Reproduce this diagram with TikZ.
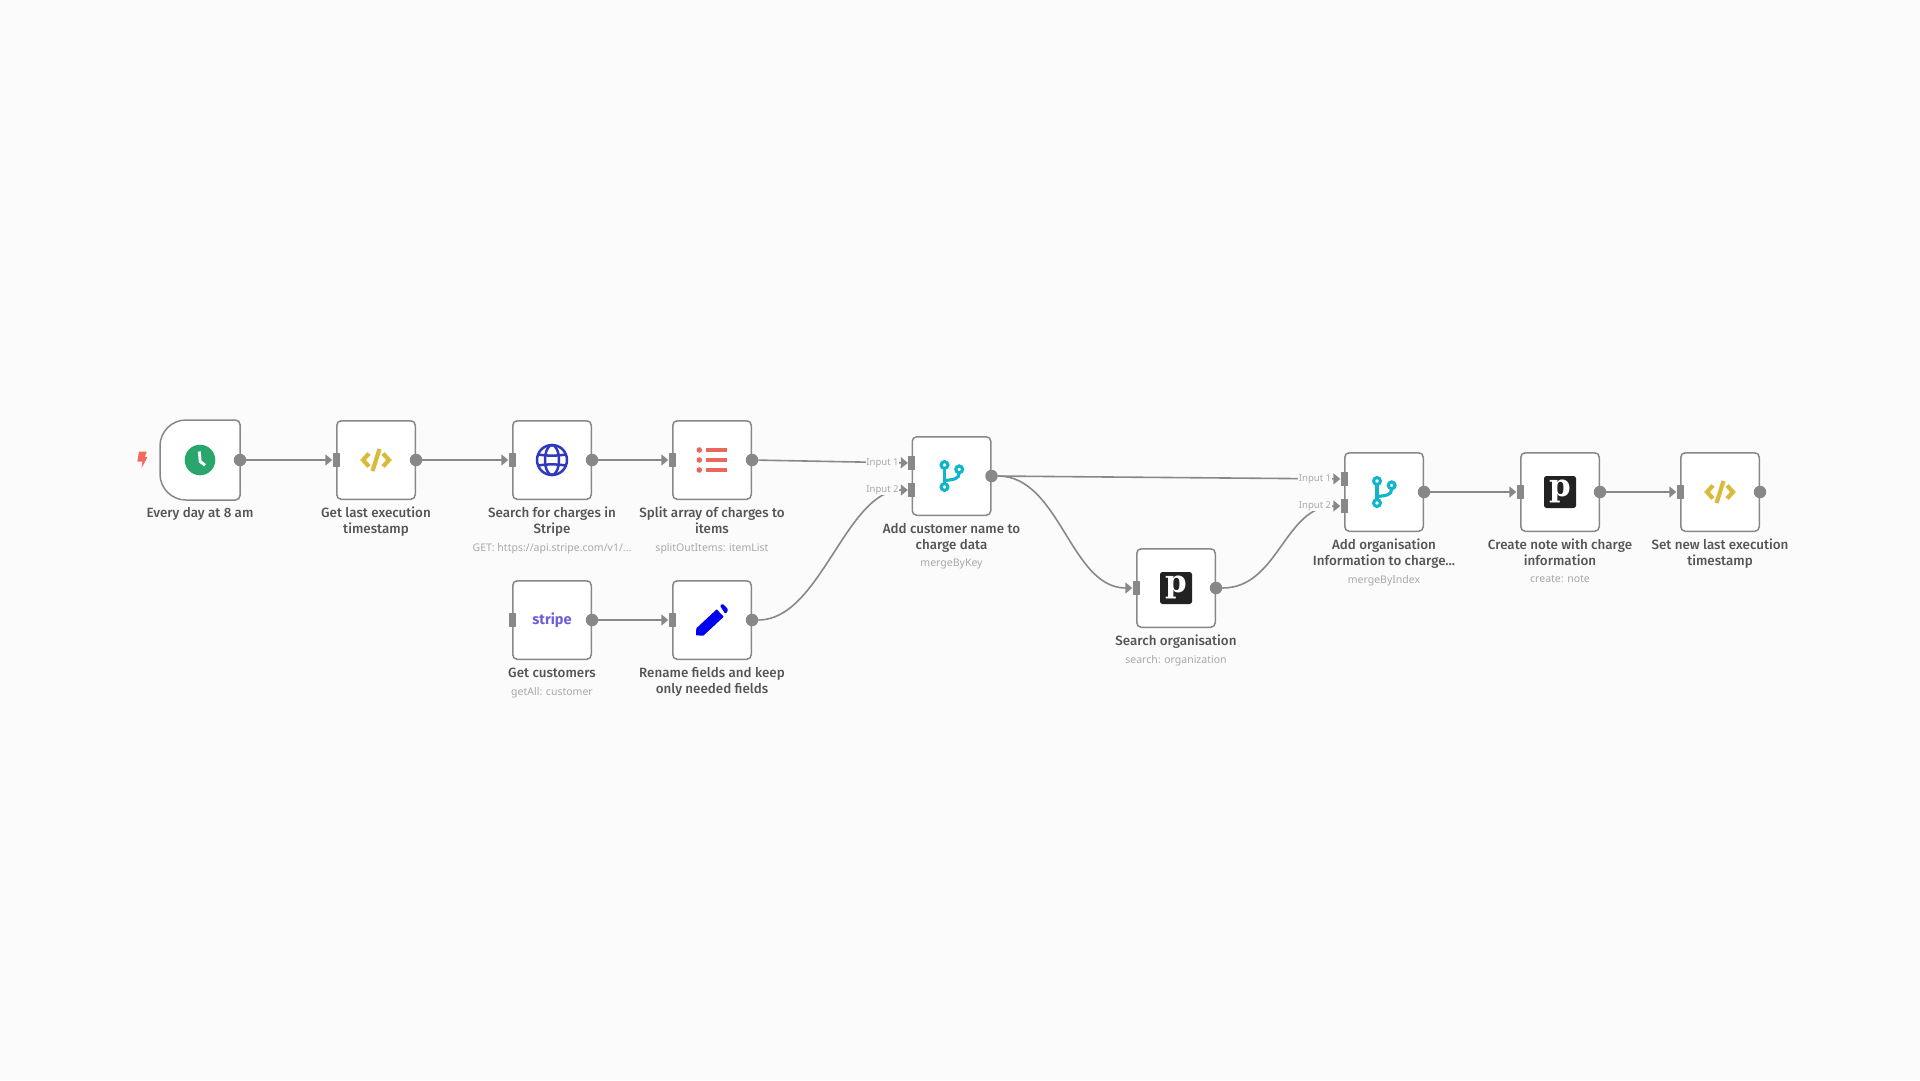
\documentclass[tikz,border=0pt]{standalone}
\usepackage{fontspec}
\usepackage{color}
\usetikzlibrary{arrows.meta,positioning,calc}
\setmainfont{Noto Sans}
\newfontfamily\titlefont{Fira Sans Medium}
\newfontfamily\slabfont{DejaVu Serif Bold}
\newfontfamily\stripefont{Fira Sans}
\definecolor{canvasgray}{HTML}{FBFBFB}
\definecolor{wiregray}{HTML}{888888}
\definecolor{titlegray}{HTML}{555555}
\definecolor{subgray}{HTML}{A8A8A8}
\definecolor{clockgreen}{HTML}{2AA56B}
\definecolor{boltred}{HTML}{F4695D}
\definecolor{codegold}{HTML}{D8BB3C}
\definecolor{globeblue}{HTML}{3038BE}
\definecolor{listred}{HTML}{E8695B}
\definecolor{stripeblue}{HTML}{6A5FD8}
\definecolor{mergecyan}{HTML}{10B5C9}
\definecolor{pipeblack}{HTML}{222222}
\tikzset{
    workbox/.style={rectangle, draw=wiregray, fill=white, line width=1.5pt, rounded corners=4.5pt, minimum size=78.5pt, inner sep=0pt},
    outport/.style={circle, fill=wiregray, minimum size=12.5pt, inner sep=0pt},
    inport/.style={rectangle, fill=wiregray, minimum width=7pt, minimum height=14pt, inner sep=0pt},
    link/.style={draw=wiregray, line width=1.6pt, -{Triangle[length=7pt,width=11pt]}},
    nodetitle/.style={align=center, inner sep=0pt, text depth=3.5pt, text=titlegray, font=\titlefont\fontsize{13.4}{16}\selectfont},
    nodesub/.style={align=center, inner sep=0pt, text=subgray, font=\fontsize{10.5}{13}\selectfont},
    inputtag/.style={fill=canvasgray, inner sep=0.5pt, text=subgray, font=\fontsize{9.5}{11}\selectfont}
}
\newcommand{\codeicon}[1]{
    \begin{scope}[shift={(#1)}, draw=codegold, line width=4.2pt]
        \draw[miter limit=10] (-7,-6.5) -- (-13,0) -- (-7,6.5);
        \draw[miter limit=10] (7,-6.5) -- (13,0) -- (7,6.5);
        \draw (3.5,-11) -- (-3.5,11);
    \end{scope}
}
\newcommand{\pipeicon}[2]{
    \fill[pipeblack, rounded corners=2.5pt] ($(#1)+(-16,-16)$) rectangle ($(#1)+(16,16)$);
    \node[text=white, inner sep=0pt, font=\slabfont\fontsize{31}{31}\selectfont] (#2) at ($(#1)+(0,-1)$) {p};
}
\newcommand{\mergeicon}[1]{
    \begin{scope}[shift={(#1)}, draw=mergecyan, line width=3.1pt]
        \draw (-7,-8) -- (-7,8);
        \draw (7.7,-3.5) .. controls (7.7,3) and (3,3.5) .. (-7,4.5);
        \draw (-7,-11) circle (3.4);
        \draw (7.7,-6.7) circle (3.4);
        \draw (-7,11) circle (3.4);
    \end{scope}
}
\begin{document}
\begin{tikzpicture}[x=1pt, y=-1pt]
            \useasboundingbox (0,0) rectangle (1920,1080);
            \fill[canvasgray] (0,0) rectangle (1920,1080);
            \node[workbox, draw=none, fill=none] at (200,460) (Cron0) {};
            \node[workbox] at ($(Cron0)+(176,0)$) (Code0) {};
            \node[workbox] at ($(Code0)+(176,0)$) (Http0) {};
            \node[workbox] at ($(Http0)+(160,0)$) (Split0) {};
            \node[workbox] at (552,620) (Stripe0) {};
            \node[workbox] at ($(Stripe0)+(160,0)$) (Rename0) {};
            \node[workbox] at (951.5,476) (Merge0) {};
            \node[workbox] at (1176,588) (Pipe0) {};
            \node[workbox] at (1384,492) (Merge1) {};
            \node[workbox] at ($(Merge1)+(176,0)$) (Pipe1) {};
            \node[workbox] at ($(Pipe1)+(160,0)$) (Code1) {};
            \draw[draw=wiregray, fill=white, line width=1.5pt, rounded corners=4.5pt] (Cron0.north) -- (Cron0.north east) -- (Cron0.south east) -- (Cron0.south) [rounded corners=26pt] -- (Cron0.south west) -- (Cron0.north west) [rounded corners=0pt] -- cycle;
            \node[outport] at (Cron0.east) (Cron0o) {};
            \node[outport] at (Code0.east) (Code0o) {};
            \node[outport] at (Http0.east) (Http0o) {};
            \node[outport] at (Split0.east) (Split0o) {};
            \node[outport] at (Stripe0.east) (Stripe0o) {};
            \node[outport] at (Rename0.east) (Rename0o) {};
            \node[outport] at (Merge0.east) (Merge0o) {};
            \node[outport] at (Pipe0.east) (Pipe0o) {};
            \node[outport] at (Merge1.east) (Merge1o) {};
            \node[outport] at (Pipe1.east) (Pipe1o) {};
            \node[outport] at (Code1.east) (Code1o) {};
            \node[inport] at (Code0.west) (Code0i) {};
            \node[inport] at (Http0.west) (Http0i) {};
            \node[inport] at (Split0.west) (Split0i) {};
            \node[inport] at (Stripe0.west) (Stripe0i) {};
            \node[inport] at (Rename0.west) (Rename0i) {};
            \node[inport] at ($(Merge0.west)+(0,-13)$) (Merge0a) {};
            \node[inport] at ($(Merge0.west)+(0,14)$) (Merge0b) {};
            \node[inport] at (Pipe0.west) (Pipe0i) {};
            \node[inport] at ($(Merge1.west)+(0,-13)$) (Merge1a) {};
            \node[inport] at ($(Merge1.west)+(0,14)$) (Merge1b) {};
            \node[inport] at (Pipe1.west) (Pipe1i) {};
            \node[inport] at (Code1.west) (Code1i) {};
            \draw[link] (Cron0o) -- (Code0i);
            \draw[link] (Code0o) -- (Http0i);
            \draw[link] (Http0o) -- (Split0i);
            \draw[link] (Stripe0o) -- (Rename0i);
            \draw[link] (Split0o) -- (Merge0a);
            \draw[link] (Rename0o.east) .. controls +(62,0) and +(-62,0) .. (Merge0b.west);
            \draw[link] (Merge0o) -- (Merge1a);
            \draw[link] (Merge0o.east) .. controls +(62,0) and +(-62,0) .. (Pipe0i.west);
            \draw[link] (Pipe0o.east) .. controls +(56,0) and +(-56,0) .. (Merge1b.west);
            \draw[link] (Merge1o) -- (Pipe1i);
            \draw[link] (Pipe1o) -- (Code1i);
            \node[inputtag, left=8.5pt of Merge0a] (Merge0at) {Input 1};
            \node[inputtag, left=8.5pt of Merge0b] (Merge0bt) {Input 2};
            \node[inputtag, left=8.5pt of Merge1a] (Merge1at) {Input 1};
            \node[inputtag, left=8.5pt of Merge1b] (Merge1bt) {Input 2};
            \node[nodetitle, below=7pt of Cron0] (Cron0t) {Every day at 8 am};
            \node[nodetitle, below=7pt of Code0] (Code0t) {Get last execution\\timestamp};
            \node[nodetitle, below=7pt of Http0] (Http0t) {Search for charges in\\Stripe};
            \node[nodesub, below=5.5pt of Http0t] (Http0s) {GET: https://api.stripe.com/v1/...};
            \node[nodetitle, below=7pt of Split0] (Split0t) {Split array of charges to\\items};
            \node[nodesub, below=5.5pt of Split0t] (Split0s) {splitOutItems: itemList};
            \node[nodetitle, below=8pt of Stripe0] (Stripe0t) {Get customers};
            \node[nodesub, below=5.5pt of Stripe0t] (Stripe0s) {getAll: customer};
            \node[nodetitle, below=7pt of Rename0] (Rename0t) {Rename fields and keep\\only needed fields};
            \node[nodetitle, below=7pt of Merge0] (Merge0t) {Add customer name to\\charge data};
            \node[nodesub, below=5.5pt of Merge0t] (Merge0s) {mergeByKey};
            \node[nodetitle, below=7pt of Pipe0] (Pipe0t) {Search organisation};
            \node[nodesub, below=5.5pt of Pipe0t] (Pipe0s) {search: organization};
            \node[nodetitle, below=7pt of Merge1] (Merge1t) {Add organisation\\Information to charge...};
            \node[nodesub, below=5.5pt of Merge1t] (Merge1s) {mergeByIndex};
            \node[nodetitle, below=7pt of Pipe1] (Pipe1t) {Create note with charge\\information};
            \node[nodesub, below=5.5pt of Pipe1t] (Pipe1s) {create: note};
            \node[nodetitle, below=7pt of Code1] (Code1t) {Set new last execution\\timestamp};
            \fill[boltred, rounded corners=0.5pt] (139,451.7) -- (146.8,451.7) -- (144.8,457) -- (147.6,457) -- (141.5,468) -- (142.5,461.5) -- (137.3,461.5) -- cycle;
            \fill[clockgreen] (Cron0) circle (15.3);
            \draw[white, line width=2.9pt, line join=round] ($(Cron0)+(-0.7,-8.5)$) -- ($(Cron0)+(0.2,1.5)$) -- ($(Cron0)+(5,5.2)$);
            \codeicon{Code0}
            \codeicon{Code1}
            \begin{scope}[shift={(Http0)}, draw=globeblue, line width=2.5pt]
                \draw (0,0) circle (15);
                \draw (0,0) ellipse (7 and 15);
                \draw (-13.5,-5.5) .. controls (-5,-4) and (5,-4) .. (13.5,-5.5);
                \draw (-13.5,5.5) .. controls (-5,4) and (5,4) .. (13.5,5.5);
            \end{scope}
            \begin{scope}[shift={(Split0)}, fill=listred]
                \fill (-12.7,-10) circle (2.8);
                \fill (-12.7,0) circle (2.8);
                \fill (-12.7,10) circle (2.8);
                \fill (-6,-11.8) rectangle (15,-8.2);
                \fill (-6,-1.8) rectangle (15,1.8);
                \fill (-6,8.2) rectangle (15,11.8);
            \end{scope}
            \node[text=stripeblue, inner sep=0pt, font=\stripefont\bfseries\fontsize{14.5}{14.5}\selectfont] at (Stripe0) (Stripe0m) {stripe};
            \begin{scope}[shift={(Rename0)}, fill=blue!94!black]
                \fill[rounded corners=0.5pt] (-16,15.3) -- (-15.7,8.3) -- (4.7,-10.7) -- (11.7,-3.3) -- (-8.7,15.7) -- cycle;
                \fill[rounded corners=1pt] (8,-14.3) -- (10.7,-16.3) -- (15.7,-11.3) -- (15.7,-8.7) -- (13.3,-6) -- cycle;
            \end{scope}
            \mergeicon{Merge0}
            \mergeicon{Merge1}
            \pipeicon{Pipe0}{Pipe0m}
            \pipeicon{Pipe1}{Pipe1m}
        \end{tikzpicture}
\end{document}
